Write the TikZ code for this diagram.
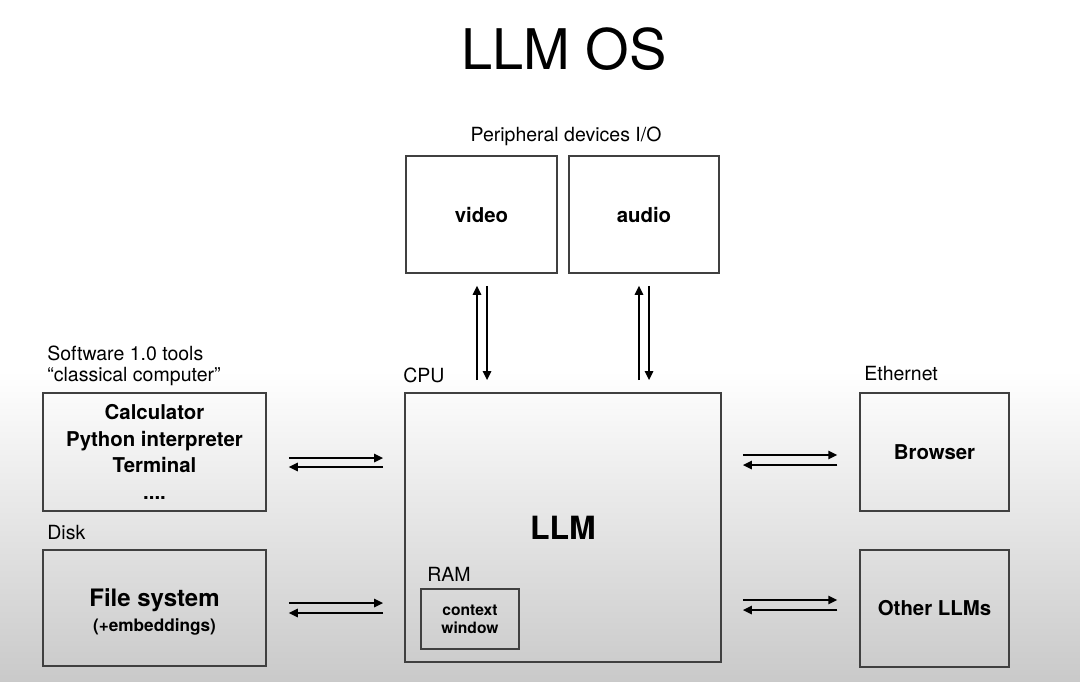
\documentclass[tikz,border=0pt]{standalone}
\usepackage{fontspec}
\setmainfont{TeX Gyre Heros}
\usetikzlibrary{arrows.meta, positioning, calc}

\tikzset{
  box/.style={draw=black!75, line width=0.75pt, rectangle, inner sep=0pt, align=center,
    font=\bfseries\fontsize{10.2}{13.3}\selectfont},
  lbl/.style={inner sep=0pt, font=\fontsize{9.75}{12}\selectfont},
  flow/.style={-{Triangle[length=4.5pt,width=4.2pt]}, line width=0.85pt},
}

\begin{document}
\begin{tikzpicture}[x=0.5pt, y=-0.5pt]
   \useasboundingbox (0,0) rectangle (1080,681);
   \fill[white] (0,0) rectangle (1080,372);
   \shade[top color=white, bottom color=black!21] (0,371) rectangle (1080,681);

   \node[font=\fontsize{28}{30}\selectfont, inner sep=0pt] (title) at (564,49) {LLM OS};

   % peripheral devices
   \node[lbl] (periph) at (566,136) {Peripheral devices I/O};
   \node[box, minimum width=75.5pt, minimum height=58.5pt] (video) at (481.5,214.5) {video};
   \node[box, minimum width=75pt, minimum height=58.5pt] (audio) at (644,214.5) {audio};

   % cpu
   \node[lbl, anchor=west] (cpu) at (403,375) {CPU};
   \node[box, line width=0.9pt, minimum width=158pt, minimum height=134.5pt,
     font=\bfseries\fontsize{16}{18}\selectfont] (llm) at (563,527.5) {LLM};
   \node[lbl, anchor=west] (ram) at (427,574) {RAM};
   \node[box, minimum width=49pt, minimum height=30pt,
     font=\bfseries\fontsize{7.8}{9}\selectfont] (ctx) at (470,619) {context\\window};

   % software 1.0 and disk
   \node[lbl, anchor=west] (sw) at (47,353) {Software 1.0 tools};
   \node[lbl, anchor=west] (classic) at (47,377) {“classical computer”};
   \node[box, minimum width=111.5pt, minimum height=59pt] (tools) at (154.5,452)
     {Calculator\\Python interpreter\\Terminal\\....};
   \node[lbl, anchor=west] (disk) at (47,533) {Disk};
   \node[box, minimum width=111.5pt, minimum height=58pt,
     font=\bfseries\fontsize{12}{12.4}\selectfont] (files) at (154.5,608)
     {\rule{0pt}{13pt}File system\\{\fontsize{8.6}{10}\selectfont(+embeddings)}};

   % ethernet
   \node[lbl, anchor=west] (eth) at (864,374) {Ethernet};
   \node[box, minimum width=74.5pt, minimum height=59pt] (browser) at (934.5,452) {Browser};
   \node[box, minimum width=74.5pt, minimum height=58.5pt] (others) at (934.5,608.5) {Other LLMs};

   % arrows
   \draw[flow] ($(tools.east)+(22,6)$) -- ($(tools.east -| llm.west)+(-21,6)$);
   \draw[flow] ($(tools.east -| llm.west)+(-21,15)$) -- ($(tools.east)+(22,15)$);
   \draw[flow] ($(files.east)+(22,-5)$) -- ($(files.east -| llm.west)+(-21,-5)$);
   \draw[flow] ($(files.east -| llm.west)+(-21,5)$) -- ($(files.east)+(22,5)$);

   \draw[flow] ($(browser.west -| llm.east)+(21,3)$) -- ($(browser.west)+(-22,3)$);
   \draw[flow] ($(browser.west)+(-22,13)$) -- ($(browser.west -| llm.east)+(21,13)$);
   \draw[flow] ($(others.west -| llm.east)+(21,-8.5)$) -- ($(others.west)+(-22,-8.5)$);
   \draw[flow] ($(others.west)+(-22,1.5)$) -- ($(others.west -| llm.east)+(21,1.5)$);

   \draw[flow] ($(video.south |- llm.north)+(-4.5,-12)$) -- ($(video.south)+(-4.5,12)$);
   \draw[flow] ($(video.south)+(5.5,12)$) -- ($(video.south |- llm.north)+(5.5,-12)$);
   \draw[flow] ($(audio.south |- llm.north)+(-5,-12)$) -- ($(audio.south)+(-5,12)$);
   \draw[flow] ($(audio.south)+(5,12)$) -- ($(audio.south |- llm.north)+(5,-12)$);
\end{tikzpicture}
\end{document}
